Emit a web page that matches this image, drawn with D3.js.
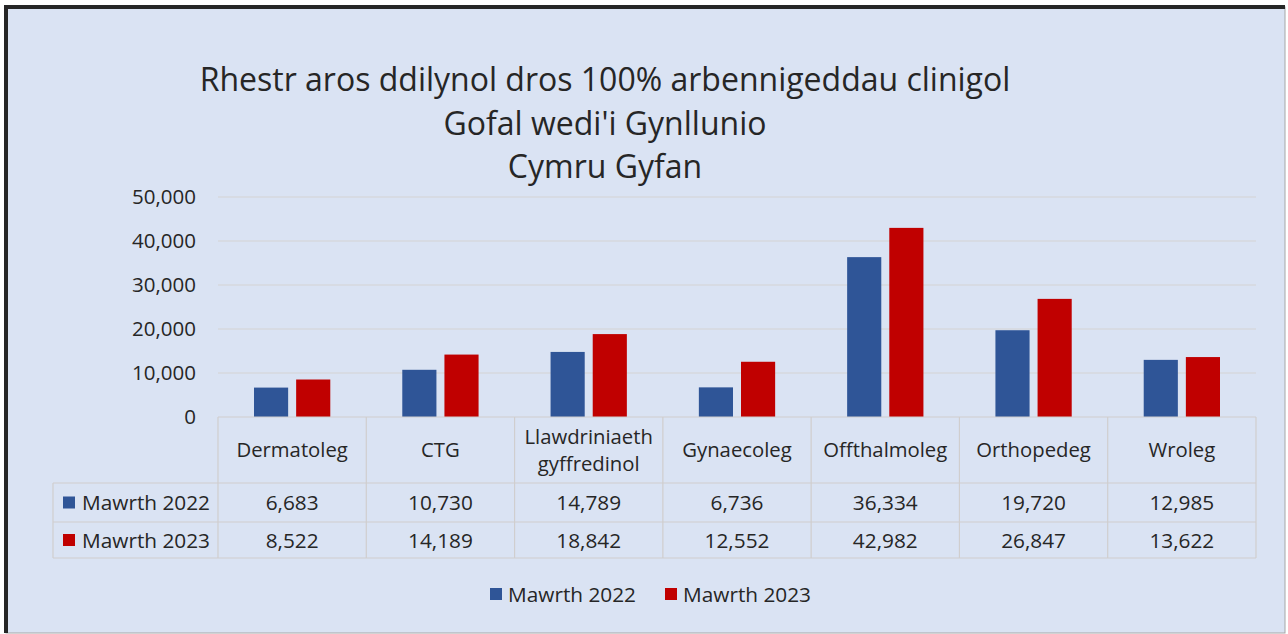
<!DOCTYPE html>
<html>
<head>
<meta charset="utf-8">
<script src="https://cdn.jsdelivr.net/npm/d3@7"></script>
<style>
  body { margin: 0; background: #fff; }
  svg text { font-family: "Open Sans", "Liberation Sans", sans-serif; fill: #262626; }
</style>
</head>
<body>
<script>
// data
var categories = ["Dermatoleg", "CTG", "Llawdriniaeth\ngyffredinol", "Gynaecoleg", "Offthalmoleg", "Orthopedeg", "Wroleg"];
var seriesNames = ["Mawrth 2022", "Mawrth 2023"];
var values2022 = [6683, 10730, 14789, 6736, 36334, 19720, 12985];
var values2023 = [8522, 14189, 18842, 12552, 42982, 26847, 13622];
var yTicks = [0, 10000, 20000, 30000, 40000, 50000];
var titleLines = ["Rhestr aros ddilynol dros 100% arbennigeddau clinigol", "Gofal wedi'i Gynllunio", "Cymru Gyfan"];

var colours = {"Mawrth 2022": "#2F5597", "Mawrth 2023": "#C00000"};
var seriesValues = {"Mawrth 2022": values2022, "Mawrth 2023": values2023};

var W = 1288, H = 634;
var svg = d3.select("body").append("svg").attr("width", W).attr("height", H);

// background + frame
svg.append("rect").attr("x", 0).attr("y", 0).attr("width", W).attr("height", H).attr("fill", "#fff");
svg.append("rect").attr("x", 6).attr("y", 7).attr("width", 1279).attr("height", 626)
  .attr("fill", "#DAE3F3").attr("stroke", "#A6A6A6").attr("stroke-width", 1);
svg.append("path").attr("d", "M6,633 V7 H1285").attr("fill", "none").attr("stroke", "#262626").attr("stroke-width", 4);

// title
var title = svg.append("text").attr("text-anchor", "middle").style("font-size", "32px");
titleLines.forEach(function(t, i) {
  title.append("tspan").attr("x", 605).attr("y", 91 + i * 43.5).text(t);
});

var x0 = d3.scaleBand().domain(categories).range([218, 1256]);
var x1 = d3.scaleBand().domain(seriesNames).range([36, x0.bandwidth() - 36]).paddingInner(0.19);
var y = d3.scaleLinear().domain([0, 50000]).range([417, 197]);

// gridlines
svg.append("g").selectAll("line").data(yTicks.slice(1)).enter().append("line")
  .attr("x1", 218).attr("x2", 1256)
  .attr("y1", function(d) { return y(d); }).attr("y2", function(d) { return y(d); })
  .attr("stroke", "#D4D4D4").attr("stroke-width", 1.2);

// y axis labels
var yAxis = d3.axisLeft(y).tickValues(yTicks).tickFormat(d3.format(",d")).tickSize(0).tickPadding(22);
var yg = svg.append("g").attr("transform", "translate(218,0)").call(yAxis);
yg.select(".domain").remove();
yg.selectAll("text").style("font-size", "20.5px").attr("fill", "#404040").style("font-family", null);

// bars
var groups = svg.append("g").selectAll("g").data(categories).enter().append("g")
  .attr("transform", function(d) { return "translate(" + x0(d) + ",0)"; });
groups.selectAll("rect")
  .data(function(d, i) { return seriesNames.map(function(s) { return {s: s, v: seriesValues[s][i]}; }); })
  .enter().append("rect")
  .attr("x", function(d) { return x1(d.s); })
  .attr("width", x1.bandwidth())
  .attr("y", function(d) { return y(d.v); })
  .attr("height", function(d) { return y(0) - y(d.v); })
  .attr("fill", function(d) { return colours[d.s]; });

// data table
var tableTop = 417, rowH = [483, 522, 558];
var grid = svg.append("g").attr("stroke", "#D0CECE").attr("stroke-width", 1.2);
grid.append("line").attr("x1", 218).attr("x2", 1256).attr("y1", tableTop).attr("y2", tableTop);
rowH.forEach(function(yy) {
  grid.append("line").attr("x1", 53).attr("x2", 1256).attr("y1", yy).attr("y2", yy);
});
categories.forEach(function(c) {
  grid.append("line").attr("x1", x0(c)).attr("x2", x0(c)).attr("y1", tableTop).attr("y2", 558);
});
grid.append("line").attr("x1", 1256).attr("x2", 1256).attr("y1", tableTop).attr("y2", 558);
grid.append("line").attr("x1", 53).attr("x2", 53).attr("y1", 483).attr("y2", 558);

// category headers
categories.forEach(function(c) {
  var lines = c.split("\n");
  var t = svg.append("text").attr("text-anchor", "middle").style("font-size", "20.3px");
  lines.forEach(function(l, i) {
    t.append("tspan").attr("x", x0(c) + x0.bandwidth() / 2)
      .attr("y", 457 + (i - (lines.length - 1) / 2) * 27).text(l);
  });
});

// rows
seriesNames.forEach(function(s, r) {
  var cy = (rowH[r] + rowH[r + 1]) / 2;
  svg.append("rect").attr("x", 63).attr("y", cy - 6).attr("width", 12).attr("height", 12).attr("fill", colours[s]);
  svg.append("text").attr("x", 82).attr("y", cy + 7.5).style("font-size", "20.8px").text(s);
  categories.forEach(function(c, i) {
    svg.append("text").attr("x", x0(c) + x0.bandwidth() / 2).attr("y", cy + 7.5)
      .attr("text-anchor", "middle").style("font-size", "20.8px")
      .text(d3.format(",d")(seriesValues[s][i]));
  });
});

// legend
var legendX = [490, 665];
seriesNames.forEach(function(s, i) {
  svg.append("rect").attr("x", legendX[i]).attr("y", 588).attr("width", 12).attr("height", 12).attr("fill", colours[s]);
  svg.append("text").attr("x", legendX[i] + 18).attr("y", 601.5).style("font-size", "20.8px").text(s);
});
</script>
</body>
</html>
